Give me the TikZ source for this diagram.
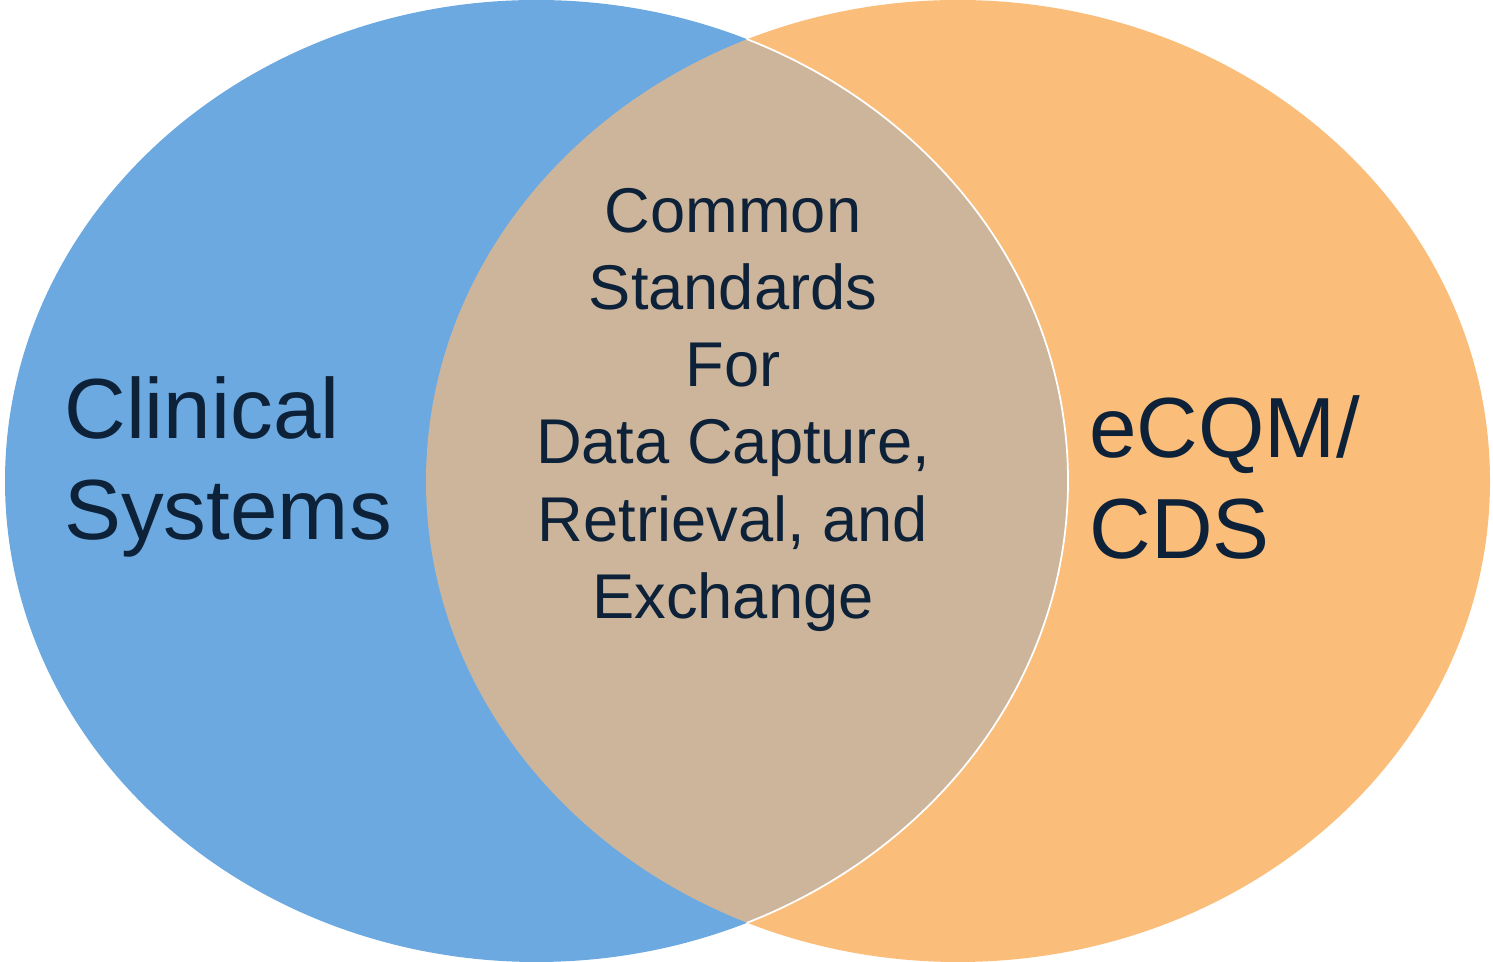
\documentclass[tikz,border=0pt]{standalone}
\usepackage{fontspec}
\setmainfont{Liberation Sans}

\definecolor{clinblue}{RGB}{108,169,224}
\definecolor{cqmorange}{RGB}{251,189,122}
\definecolor{overlap}{RGB}{205,181,156}
\definecolor{navytext}{RGB}{13,34,56}

\begin{document}
\begin{tikzpicture}[x=0.02cm, y=0.02cm,
  sidetext/.style={anchor=north west, inner sep=0pt, align=left, text=navytext,
    font=\fontsize{48.6}{57.8}\selectfont},
  midtext/.style={anchor=north, inner sep=0pt, align=center, text=navytext,
    font=\fontsize{36}{43.9}\selectfont}]
\useasboundingbox (0,0) rectangle (1493,962);

% Ellipsen
\fill[cqmorange] (958,481) ellipse [x radius=532, y radius=481]; % rechts
\fill[clinblue] (536.5,481) ellipse [x radius=531.5, y radius=481]; % links

% Schnittmenge
\begin{scope}
  \clip (958,481) ellipse [x radius=532, y radius=481];
  \fill[overlap] (536.5,481) ellipse [x radius=531.5, y radius=481];
  \draw[white, line width=1pt] (536.5,481) ellipse [x radius=531.5, y radius=481];
\end{scope}

% Texte
\node[sidetext] (clinical) at (64,586) {Clinical\\Systems};
\node[sidetext] (ecqm) at (1089,567) {eCQM/\\CDS};
\node[midtext] (common) at (733,774) {Common\\Standards\\For\\Data Capture,\\Retrieval, and\\Exchange};

\end{tikzpicture}
\end{document}
